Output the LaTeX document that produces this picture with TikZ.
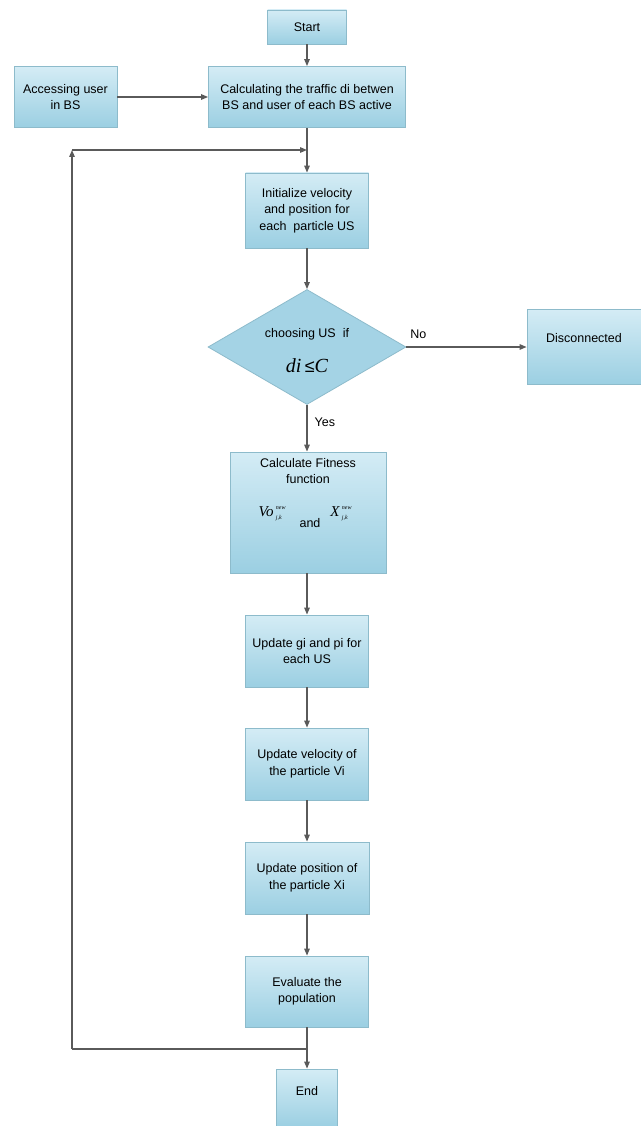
\documentclass[tikz,border=0pt]{standalone}
\usepackage{fontspec}
\setmainfont{Liberation Sans}
\newfontfamily\serifit{Liberation Serif}
\usetikzlibrary{arrows.meta,shapes.geometric}
\definecolor{boxtop}{HTML}{D4ECF5}
\definecolor{boxbot}{HTML}{9BCFE2}
\definecolor{boxline}{HTML}{8DBBCB}
\definecolor{linecol}{HTML}{5A5A5A}
\tikzset{
  flowbox/.style={rectangle, draw=boxline, line width=0.8pt, top color=boxtop, bottom color=boxbot,
    align=center, font=\fontsize{12.5}{16.5}\selectfont, inner sep=2pt},
  decbox/.style={diamond, draw=boxline, line width=0.8pt, fill=boxbot!85!boxtop, aspect=1.72,
    align=center, inner sep=0pt},
  conn/.style={draw=linecol, line width=1.2pt, -{Triangle[length=7pt,width=5.5pt]}},
  plainconn/.style={draw=linecol, line width=1.2pt},
  lbl/.style={font=\fontsize{12.5}{16}\selectfont, align=center, inner sep=1pt},
  mathlbl/.style={font=\serifit\itshape\fontsize{15}{16}\selectfont, inner sep=0pt},
  idxlbl/.style={font=\serifit\itshape\fontsize{6}{6}\selectfont, inner sep=0pt}
}
\begin{document}
\begin{tikzpicture}[x=1pt,y=-1pt]
\useasboundingbox (0,0) rectangle (640,1126);
\node[flowbox, minimum width=79pt, minimum height=34pt] (start) at (307,27) {Start};
\node[flowbox, minimum width=197pt, minimum height=61pt] (calc) at (307,97) {Calculating the traffic di betwen\\BS and user of each BS active};
\node[flowbox, minimum width=103pt, minimum height=61pt] (acc) at (65.5,97) {Accessing user\\in BS};
\node[flowbox, minimum width=123pt, minimum height=75pt] (init) at (307,210.5) {Initialize velocity\\and position for\\each \ particle US};
\node[decbox, minimum width=198pt, minimum height=115pt] (dec) at (307,347) {};
\node[lbl] (dectxt) at (307,334) {choosing US \ if};
\node (decmath) at (307,366) {\fontsize{20}{22}\selectfont\serifit\itshape di\,{\fontsize{18}{20}\selectfont\normalfont ≤}C};
\node[flowbox, minimum width=114pt, minimum height=75pt, text depth=18pt] (disc) at (584,347) {Disconnected};
\node[flowbox, minimum width=156pt, minimum height=121pt] (fit) at (308,512.5) {};
\node[lbl, anchor=north] (fittxt) at (308,457) {Calculate Fitness\\function};
\node[mathlbl] (vo) at (266,512) {Vo};
\node[idxlbl, anchor=south west] (vosup) at ([xshift=2pt,yshift=2.5pt]vo.east) {new};
\node[idxlbl, anchor=north west] (vosub) at ([xshift=2pt,yshift=-3.5pt]vo.east) {j,k};
\node[lbl] (andtxt) at (310,523) {and};
\node[mathlbl] (xx) at (335,512) {X};
\node[idxlbl, anchor=south west] (xsup) at ([xshift=2pt,yshift=2.5pt]xx.east) {new};
\node[idxlbl, anchor=north west] (xsub) at ([xshift=2pt,yshift=-3.5pt]xx.east) {j,k};
\node[flowbox, minimum width=123pt, minimum height=72pt] (upg) at (307,651) {Update gi and pi for\\each US};
\node[flowbox, minimum width=123pt, minimum height=72pt] (upv) at (307,764) {Update velocity of\\the particle Vi};
\node[flowbox, minimum width=124pt, minimum height=72pt] (upx) at (307,878) {Update position of\\the particle Xi};
\node[flowbox, minimum width=123pt, minimum height=71pt] (eval) at (307,991.5) {Evaluate the\\population};
\node[flowbox, minimum width=61pt, minimum height=58pt, text depth=14pt] (endn) at (307,1098) {End};
\coordinate (merge) at (307,150);
\coordinate (loopcorner) at (72,150);
\coordinate (split) at (307,1049);
\coordinate (loopbottom) at (72,1049);
\draw[conn] (start) -- (calc);
\draw[conn] (acc) -- (calc);
\draw[conn] (calc) -- (init);
\draw[conn] (init) -- (dec);
\draw[conn] (dec.east) -- node[lbl, pos=0.1, above=7pt] {No} (disc.west);
\draw[conn] (dec.south) -- node[lbl, pos=0.38, right=6pt] {Yes} (fit.north -| dec.south);
\draw[conn] (fit.south -| upg.north) -- (upg);
\draw[conn] (upg) -- (upv);
\draw[conn] (upv) -- (upx);
\draw[conn] (upx) -- (eval);
\draw[conn] (eval) -- (endn);
\draw[plainconn] (split) -- (loopbottom);
\draw[conn] (loopbottom) -- (loopcorner);
\draw[conn] (loopcorner) -- (merge);
\end{tikzpicture}
\end{document}
